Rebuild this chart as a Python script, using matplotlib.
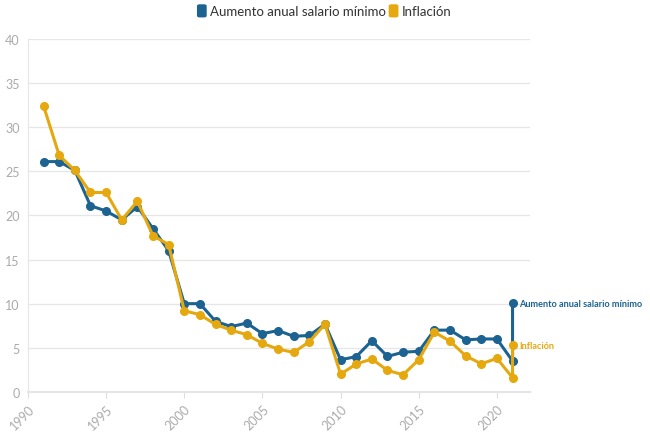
import matplotlib.pyplot as plt
from matplotlib.patches import FancyBboxPatch

plt.rcParams['font.family'] = ['Lato', 'DejaVu Sans']

# datos (el último año aparece dos veces: 2021 y el aumento decretado para 2022)
years = [1991, 1992, 1993, 1994, 1995, 1996, 1997, 1998, 1999, 2000,
         2001, 2002, 2003, 2004, 2005, 2006, 2007, 2008, 2009, 2010,
         2011, 2012, 2013, 2014, 2015, 2016, 2017, 2018, 2019, 2020,
         2021, 2021]
salario = [26.1, 26.1, 25.1, 21.1, 20.5, 19.5, 21.0, 18.5, 16.0, 10.0,
           10.0, 8.0, 7.4, 7.8, 6.6, 6.95, 6.3, 6.4, 7.67, 3.64,
           4.0, 5.8, 4.02, 4.5, 4.6, 7.0, 7.0, 5.9, 6.0, 6.0,
           3.5, 10.07]
inflacion = [32.4, 26.8, 25.1, 22.6, 22.6, 19.5, 21.6, 17.7, 16.7, 9.2,
             8.75, 7.65, 6.99, 6.49, 5.5, 4.85, 4.48, 5.69, 7.67, 2.0,
             3.17, 3.73, 2.44, 1.94, 3.66, 6.77, 5.75, 4.09, 3.18, 3.8,
             1.61, 5.3]

azul = '#1c6391'
amarillo = '#e6a80f'
gris = '#aaaaaa'

fig = plt.figure(figsize=(6.5, 4.39), dpi=100)
ax = fig.add_axes([0.043, 0.105, 0.772, 0.804])

ax.plot(years, salario, color=azul, lw=2.2, marker='o', ms=5.5, zorder=3)
ax.plot(years, inflacion, color=amarillo, lw=2.2, marker='o', ms=5.5, zorder=4)

ax.set_xlim(1990, 2022.1)
ax.set_ylim(0, 40)
ax.set_yticks(range(0, 41, 5))
ax.set_xticks(range(1990, 2021, 5))
ax.set_xticklabels(range(1990, 2021, 5), rotation=45, ha='right', rotation_mode='anchor')
ax.tick_params(axis='x', colors='#dddddd', labelcolor=gris, length=4, labelsize=9)
ax.tick_params(axis='y', length=0, labelcolor=gris, labelsize=9, pad=6)
ax.grid(axis='y', color='#e6e6e6', lw=0.9)
ax.set_axisbelow(True)
for s in ['top', 'right']:
    ax.spines[s].set_visible(False)
ax.spines['left'].set_color('#e6e6e6')
ax.spines['bottom'].set_color('#e6e6e6')
ax.spines['bottom'].set_linewidth(1.5)

# etiquetas al final de las líneas
ax.annotate('Aumento anual salario mínimo', (years[-1], salario[-1]), xytext=(5, 0),
            textcoords='offset points', va='center', color=azul, fontsize=6.6, fontweight='bold')
ax.annotate('Inflación', (years[-1], inflacion[-1]), xytext=(5, 0),
            textcoords='offset points', va='center', color=amarillo, fontsize=6.6, fontweight='bold')

# leyenda superior
def cuadro(x, y, color):
    fig.patches.append(FancyBboxPatch((x, y), 0.015, 0.03, boxstyle='round,pad=0,rounding_size=0.004',
                                      transform=fig.transFigure, facecolor=color, edgecolor='none'))

cuadro(0.303, 0.958, azul)
fig.text(0.323, 0.973, 'Aumento anual salario mínimo', va='center', fontsize=9.5, color='#333333')
cuadro(0.598, 0.958, amarillo)
fig.text(0.618, 0.973, 'Inflación', va='center', fontsize=9.5, color='#333333')

fig.savefig('out.png', dpi=100)
